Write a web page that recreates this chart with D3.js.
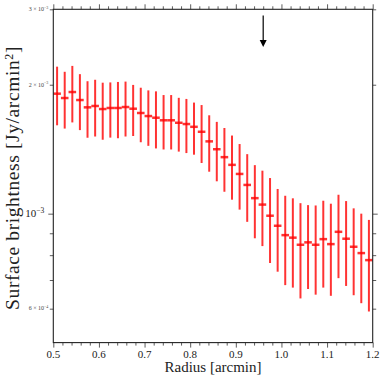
<!DOCTYPE html>
<html>
<head>
<meta charset="utf-8">
<script src="https://cdn.jsdelivr.net/npm/d3@7"></script>
<style>
  body { margin: 0; background: #fff; }
  svg { display: block; font-family: "Liberation Serif", "DejaVu Serif", serif; }
</style>
</head>
<body>
<svg id="chart" width="383" height="383"></svg>
<script>
// radius bins (arcmin), 1 arcsec wide
const radius = [0.5083, 0.525, 0.5417, 0.5583, 0.575, 0.5917, 0.6083, 0.625, 0.6417, 0.6583,
    0.675, 0.6917, 0.7083, 0.725, 0.7417, 0.7583, 0.775, 0.7917, 0.8083, 0.825,
    0.8417, 0.8583, 0.875, 0.8917, 0.9083, 0.925, 0.9417, 0.9583, 0.975, 0.9917,
    1.0083, 1.025, 1.0417, 1.0583, 1.075, 1.0917, 1.1083, 1.125, 1.1417, 1.1583,
    1.175, 1.1917];
const binHalfWidth = 1 / 120;
// surface brightness, Jy/arcmin^2
const brightness = [1.906e-3, 1.862e-3, 1.923e-3, 1.842e-3, 1.771e-3, 1.784e-3, 1.755e-3, 1.765e-3, 1.765e-3, 1.774e-3,
    1.758e-3, 1.718e-3, 1.690e-3, 1.675e-3, 1.652e-3, 1.652e-3, 1.630e-3, 1.619e-3, 1.595e-3, 1.553e-3,
    1.475e-3, 1.414e-3, 1.355e-3, 1.300e-3, 1.238e-3, 1.167e-3, 1.087e-3, 1.050e-3, 0.989e-3, 0.937e-3,
    0.891e-3, 0.879e-3, 0.846e-3, 0.857e-3, 0.846e-3, 0.872e-3, 0.849e-3, 0.907e-3, 0.874e-3, 0.837e-3,
    0.809e-3, 0.779e-3];
const brightnessErr = [0.298e-3, 0.282e-3, 0.290e-3, 0.275e-3, 0.267e-3, 0.270e-3, 0.267e-3, 0.260e-3, 0.265e-3, 0.260e-3,
    0.240e-3, 0.250e-3, 0.250e-3, 0.255e-3, 0.240e-3, 0.240e-3, 0.234e-3, 0.234e-3, 0.222e-3, 0.240e-3,
    0.222e-3, 0.224e-3, 0.230e-3, 0.222e-3, 0.216e-3, 0.210e-3, 0.211e-3, 0.210e-3, 0.222e-3, 0.205e-3,
    0.210e-3, 0.207e-3, 0.212e-3, 0.190e-3, 0.199e-3, 0.200e-3, 0.206e-3, 0.200e-3, 0.196e-3, 0.192e-3,
    0.191e-3, 0.188e-3];

const xMajor = [0.5, 0.6, 0.7, 0.8, 0.9, 1.0, 1.1, 1.2];
const xMinor = [0.52, 0.54, 0.56, 0.58, 0.62, 0.64, 0.66, 0.68, 0.72, 0.74, 0.76, 0.78,
    0.82, 0.84, 0.86, 0.88, 0.92, 0.94, 0.96, 0.98, 1.02, 1.04, 1.06, 1.08,
    1.12, 1.14, 1.16, 1.18];
const yMajor = [1e-3];
const yMinor = [6e-4, 7e-4, 8e-4, 9e-4, 2e-3, 3e-3];
const yMinorLabels = [[6e-4, "6", "−4"], [2e-3, "2", "−3"], [3e-3, "3", "−3"]];
const arrowAt = 0.96, arrowFrom = 2.9e-3, arrowTo = 2.45e-3;

const W = 383, H = 383;
const m = { left: 53.3, right: 10.3, top: 9.3, bottom: 40.4 };
const svg = d3.select("#chart");

const x = d3.scaleLinear().domain([0.5, 1.2]).range([m.left, W - m.right]);
const y = d3.scaleLog().domain([5e-4, 3e-3]).range([H - m.bottom, m.top]);

function ticks(axis, vals, size, cls) {
    const g = svg.append("g").attr("class", cls);
    g.call(axis.tickValues(vals).tickSize(size).tickFormat(""));
    g.select(".domain").remove();
    g.selectAll(".tick line").attr("stroke", "#333").attr("stroke-width", 0.8);
    g.selectAll(".tick text").remove();
    return g;
}

// x ticks
ticks(d3.axisBottom(x), xMajor, 5, "xmaj").attr("transform", `translate(0,${H - m.bottom})`);
ticks(d3.axisBottom(x), xMinor, 3, "xmin").attr("transform", `translate(0,${H - m.bottom})`);
ticks(d3.axisTop(x), xMajor, 5, "xmajt").attr("transform", `translate(0,${m.top})`);
ticks(d3.axisTop(x), xMinor, 3, "xmint").attr("transform", `translate(0,${m.top})`);
// y ticks
ticks(d3.axisLeft(y), yMajor, 5, "ymaj").attr("transform", `translate(${m.left},0)`);
ticks(d3.axisLeft(y), yMinor, 3.5, "ymin").attr("transform", `translate(${m.left},0)`);
ticks(d3.axisRight(y), yMajor, 5, "ymajr").attr("transform", `translate(${W - m.right},0)`);
ticks(d3.axisRight(y), yMinor, 3.5, "yminr").attr("transform", `translate(${W - m.right},0)`);

// x tick labels
svg.append("g").selectAll("text").data(xMajor).join("text")
    .attr("x", d => x(d)).attr("y", H - m.bottom + 15)
    .attr("text-anchor", "middle").attr("font-size", 11).attr("fill", "#222")
    .text(d => d.toFixed(1));

// y tick labels
const lab = svg.append("g").attr("fill", "#222");
yMajor.forEach(v => {
    const t = lab.append("text").attr("x", m.left - 9).attr("y", y(v) + 3.5)
        .attr("text-anchor", "end").attr("font-size", 11);
    t.append("tspan").text("10");
    t.append("tspan").attr("font-size", 7.5).attr("dy", -4.5).text("−3");
});
yMinorLabels.forEach(([v, a, e]) => {
    const t = lab.append("text").attr("x", m.left - 5).attr("y", y(v) + 1.8)
        .attr("text-anchor", "end").attr("font-size", 6).attr("fill", "#444");
    t.append("tspan").text(a + " × 10");
    t.append("tspan").attr("font-size", 4).attr("dy", -2.5).text(e);
});

// axis labels
svg.append("text").attr("x", (m.left + W - m.right) / 2).attr("y", H - 11)
    .attr("text-anchor", "middle").attr("font-size", 15).attr("fill", "#222")
    .text("Radius [arcmin]");
const yl = svg.append("text")
    .attr("transform", `translate(19,${(m.top + H - m.bottom) / 2 + 2}) rotate(-90)`)
    .attr("text-anchor", "middle").attr("font-size", 19.5)
    .attr("letter-spacing", 0.6).attr("fill", "#222");
yl.append("tspan").text("Surface brightness [Jy/arcmin");
yl.append("tspan").attr("font-size", 12).attr("dy", -6.5).text("2");
yl.append("tspan").attr("dy", 6.5).text("]");

// error bars
const pts = radius.map((r, i) => ({ r, v: brightness[i], e: brightnessErr[i] }));
const eb = svg.append("g").attr("stroke", "#ff0000").attr("stroke-opacity", 0.8);
eb.selectAll("line.v").data(pts).join("line").attr("class", "v")
    .attr("x1", d => x(d.r)).attr("x2", d => x(d.r))
    .attr("y1", d => y(d.v - d.e)).attr("y2", d => y(d.v + d.e))
    .attr("stroke-width", 2);
eb.selectAll("line.h").data(pts).join("line").attr("class", "h")
    .attr("x1", d => x(d.r - binHalfWidth)).attr("x2", d => x(d.r + binHalfWidth))
    .attr("y1", d => y(d.v)).attr("y2", d => y(d.v))
    .attr("stroke-width", 2.5);

// arrow
svg.append("line")
    .attr("x1", x(arrowAt)).attr("x2", x(arrowAt))
    .attr("y1", y(arrowFrom)).attr("y2", y(arrowTo) - 6)
    .attr("stroke", "#000").attr("stroke-width", 1.2);
svg.append("path")
    .attr("d", `M${x(arrowAt) - 3.5},${y(arrowTo) - 7} L${x(arrowAt) + 3.5},${y(arrowTo) - 7} L${x(arrowAt)},${y(arrowTo)} Z`)
    .attr("fill", "#000");

// frame
svg.append("rect")
    .attr("x", m.left).attr("y", m.top)
    .attr("width", W - m.left - m.right).attr("height", H - m.top - m.bottom)
    .attr("fill", "none").attr("stroke", "#222").attr("stroke-width", 1.1);
</script>
</body>
</html>
